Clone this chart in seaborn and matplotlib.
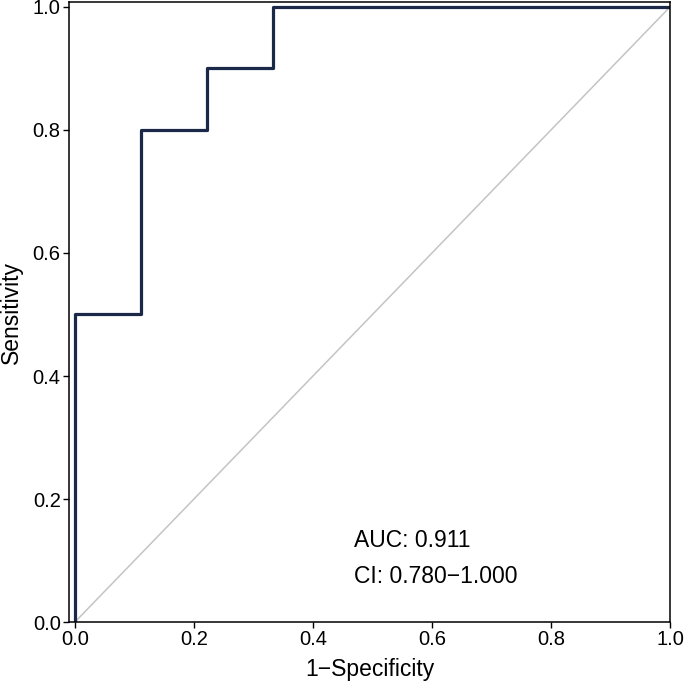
import numpy as np
import pandas as pd
import matplotlib
matplotlib.use('Agg')
import matplotlib.pyplot as plt
import seaborn as sns

# Datos de la curva ROC
fpr = [0.0, 0.0, 0.111, 0.111, 0.222, 0.222, 0.333, 0.333, 1.0]
tpr = [0.0, 0.5, 0.5, 0.8, 0.8, 0.9, 0.9, 1.0, 1.0]
auc_text = 'AUC: 0.911'
ci_text = 'CI: 0.780\u22121.000'
ticks = [0.0, 0.2, 0.4, 0.6, 0.8, 1.0]
tick_labels = ['0.0', '0.2', '0.4', '0.6', '0.8', '1.0']

sns.set_style('ticks')
plt.rcParams['font.family'] = ['Liberation Sans', 'DejaVu Sans']
plt.rcParams['text.color'] = 'black'
plt.rcParams['axes.labelcolor'] = 'black'

fig = plt.figure(figsize=(6.85, 6.81), dpi=100)
ax = fig.add_axes([0.1007, 0.0866, 0.8774, 0.9104])

# Diagonal de referencia
ax.plot([0, 1], [0, 1], color='#c4c4c4', linewidth=1.1, zorder=1)

df = pd.DataFrame({'fpr': fpr, 'tpr': tpr})
sns.lineplot(data=df, x='fpr', y='tpr', sort=False, estimator=None,
             color='#1b2848', linewidth=2.3, ax=ax, zorder=2)

ax.set_xlim(-0.01, 1.0)
ax.set_ylim(0.0, 1.008)
ax.set_xticks(ticks)
ax.set_yticks(ticks)
ax.set_xticklabels(tick_labels)
ax.set_yticklabels(tick_labels)
ax.tick_params(labelsize=14.5, length=4, width=1, pad=2, color='black', labelcolor='black')
for s in ax.spines.values():
    s.set_linewidth(1.1)
    s.set_color('black')

ax.set_xlabel('1\u2212Specificity', fontsize=16.5, labelpad=6)
ax.set_ylabel('Sensitivity', fontsize=16.5, labelpad=7)

ax.text(0.469, 0.133, auc_text, fontsize=16.5, va='center', ha='left')
ax.text(0.469, 0.074, ci_text, fontsize=16.5, va='center', ha='left')

plt.savefig('out.png', dpi=100)
